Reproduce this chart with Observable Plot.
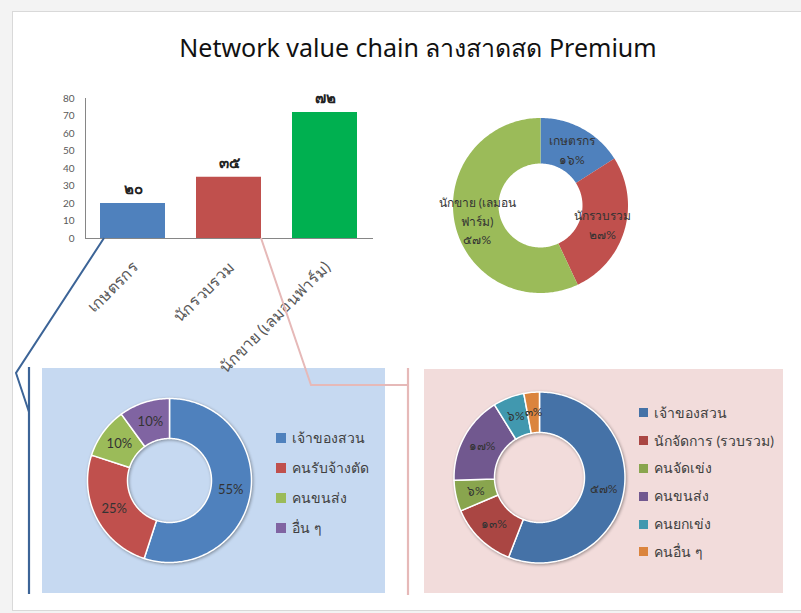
<!DOCTYPE html>
<html><head><meta charset="utf-8">
<script src="https://cdn.jsdelivr.net/npm/d3@7"></script>
<script src="https://cdn.jsdelivr.net/npm/@observablehq/plot@0.6"></script>
<style>
body{margin:0;background:#f3f3f3;}
#page{position:relative;width:801px;height:613px;overflow:hidden;font-family:Lato,"Noto Sans","DejaVu Sans",sans-serif;}
#frame{position:absolute;left:12px;top:11px;width:800px;height:598px;background:#fff;border:1px solid #d9d9d9;}
.abs{position:absolute;}
#title{left:0;width:836px;top:28px;text-align:center;font-size:25px;color:#111;font-family:"Noto Sans","Open Sans",sans-serif;}
.legend{font-size:14px;color:#404040;}
.legend .row{position:absolute;left:0;white-space:nowrap;display:flex;align-items:center;}
.legend .sw{display:inline-block;margin-right:6px;}
.shadow g[aria-label="line"]{filter:drop-shadow(1px 1.5px 1.5px rgba(0,0,0,0.35));}
svg{overflow:visible;}
</style>
</head><body>
<div id="page">
  <div id="frame"></div>
  <div id="title" class="abs">Network value chain ลางสาดสด Premium</div>
  <div class="abs" style="left:42px;top:368px;width:343px;height:225px;background:#C6D9F1"></div>
  <div class="abs" style="left:424px;top:369px;width:359px;height:224px;background:#F2DCDB"></div>
  <div id="donutTop" class="abs" style="left:440px;top:105px"></div>
  <div id="donutL" class="abs shadow" style="left:69px;top:380px"></div>
  <div id="donutR" class="abs shadow" style="left:439px;top:377px"></div>
  <div id="legendL" class="abs legend" style="left:276px;top:423px"></div>
  <div id="legendR" class="abs legend" style="left:639px;top:399px"></div>
  <div id="bar" class="abs" style="left:0;top:80px"></div>
  <svg id="conn" class="abs" width="801" height="613" style="left:0;top:0;pointer-events:none"></svg>
</div>
<script>
// ---------- data ----------
const barCategories = ["เกษตรกร", "นักรวบรวม", "นักขาย (เลมอนฟาร์ม)"];
const barValues = [20, 35, 72];
const barColors = ["#4F81BD", "#C0504D", "#00B050"];
const yTicks = [0, 10, 20, 30, 40, 50, 60, 70, 80];

const shareLabels = ["เกษตรกร", "นักรวบรวม", "นักขาย (เลมอน\nฟาร์ม)"];
const sharePercents = [16, 27, 57];
const shareColors = ["#4F81BD", "#C0504D", "#9BBB59"];

const farmCategories = ["เจ้าของสวน", "คนรับจ้างตัด", "คนขนส่ง", "อื่น ๆ"];
const farmPercents = [55, 25, 10, 10];
const farmColors = ["#4F81BD", "#C0504D", "#9BBB59", "#8064A2"];

const collectorCategories = ["เจ้าของสวน", "นักจัดการ (รวบรวม)", "คนจัดเข่ง", "คนขนส่ง", "คนยกเข่ง", "คนอื่น ๆ"];
const collectorPercents = [57, 13, 6, 17, 6, 3];
const collectorColors = ["#4572A7", "#AA4643", "#89A54E", "#71588F", "#4198AF", "#DB843D"];

const thaiDigits = "๐๑๒๓๔๕๖๗๘๙";
const thai = n => String(n).replace(/\d/g, d => thaiDigits[+d]);
const FONT = 'Lato,"Noto Sans","DejaVu Sans",sans-serif';

// ---------- bar chart ----------
const barData = barCategories.map((c, i) => ({cat: c, value: barValues[i], color: barColors[i]}));
const barPlot = Plot.plot({
  width: 390, height: 300,
  marginLeft: 85, marginRight: 17, marginTop: 18, marginBottom: 142,
  style: {background: "transparent", overflow: "visible", fontFamily: FONT},
  x: {domain: barCategories, paddingInner: 0.32, paddingOuter: 0.16, axis: null},
  y: {domain: [0, 80], axis: null},
  color: {type: "identity"},
  marks: [
    Plot.barY(barData, {x: "cat", y: "value", fill: "color"}),
    Plot.axisY({ticks: yTicks, tickSize: 0, tickPadding: 11, fontSize: 10, label: null, color: "#595959", fill: "#595959"}),
    Plot.frame({anchor: "left", stroke: "#868686"}),
    Plot.ruleY([0], {stroke: "#868686"}),
    Plot.text(barData, {x: "cat", y: "value", text: d => thai(d.value), dy: -14, fontSize: 15, fontWeight: "bold", fill: "#222"}),
    Plot.text(barData, {x: "cat", y: 0, text: "cat", rotate: -45, textAnchor: "end", dx: 3, dy: 26, fontSize: 16, fill: "#595959"})
  ]
});
document.getElementById("bar").append(barPlot);

// ---------- donut helper ----------
function donutPlot({labels, values, colors, outer, inner, size, stroke, strokeWidth, text, fontSize, lineHeight, fill}) {
  const total = d3.sum(values);
  let acc = 0;
  const slices = values.map((v, i) => {
    const a0 = acc / total * 2 * Math.PI; acc += v;
    const a1 = acc / total * 2 * Math.PI;
    return {i, label: labels[i], value: v, color: colors[i], a0, a1, mid: (a0 + a1) / 2};
  });
  const ring = slices.flatMap(s => {
    const n = Math.max(2, Math.ceil((s.a1 - s.a0) / 0.02));
    const pts = [];
    for (let k = 0; k <= n; k++) { const a = s.a0 + (s.a1 - s.a0) * k / n; pts.push({key: s.i, color: s.color, x: outer * Math.sin(a), y: outer * Math.cos(a)}); }
    for (let k = n; k >= 0; k--) { const a = s.a0 + (s.a1 - s.a0) * k / n; pts.push({key: s.i, color: s.color, x: inner * Math.sin(a), y: inner * Math.cos(a)}); }
    return pts;
  });
  const rm = (outer + inner) / 2;
  const h = size / 2;
  return Plot.plot({
    width: size, height: size, margin: 0,
    style: {background: "transparent", overflow: "visible", fontFamily: FONT},
    x: {domain: [-h, h], axis: null},
    y: {domain: [-h, h], axis: null},
    color: {type: "identity"},
    marks: [
      Plot.line(ring, {x: "x", y: "y", z: "key", fill: "color", stroke, strokeWidth, curve: "linear-closed"}),
      Plot.text(slices, {x: s => rm * Math.sin(s.mid), y: s => rm * Math.cos(s.mid), text, fontSize, lineHeight, fill})
    ]
  });
}

document.getElementById("donutTop").append(donutPlot({
  labels: shareLabels, values: sharePercents, colors: shareColors,
  outer: 87.5, inner: 42, size: 200, stroke: "none", strokeWidth: 0,
  text: s => s.label + "\n" + thai(s.value) + "%", fontSize: 12, lineHeight: 1.55, fill: "#333"
}));
document.getElementById("donutL").append(donutPlot({
  labels: farmCategories, values: farmPercents, colors: farmColors,
  outer: 82, inner: 42, size: 200, stroke: "white", strokeWidth: 1.5,
  text: s => s.value + "%", fontSize: 13, lineHeight: 1, fill: "#333"
}));
document.getElementById("donutR").append(donutPlot({
  labels: collectorCategories, values: collectorPercents, colors: collectorColors,
  outer: 85.5, inner: 45, size: 200, stroke: "white", strokeWidth: 1.5,
  text: s => thai(s.value) + "%", fontSize: 12, lineHeight: 1, fill: "#333"
}));

// ---------- legends ----------
function legend(el, names, colors, step, sq) {
  names.forEach((n, i) => {
    const row = document.createElement("div");
    row.className = "row";
    row.style.top = (i * step) + "px";
    row.style.height = step + "px";
    row.innerHTML = `<span class="sw" style="width:${sq}px;height:${sq}px;background:${colors[i]}"></span><span>${n}</span>`;
    el.append(row);
  });
}
legend(document.getElementById("legendL"), farmCategories, farmColors, 30, 10);
legend(document.getElementById("legendR"), collectorCategories, collectorColors, 27.8, 9);

// ---------- connectors ----------
const xs = barPlot.scale("x"), ys = barPlot.scale("y");
const barTop = 80;
const baseY = barTop + ys.apply(0);
const blueX = xs.apply(barCategories[0]) + 4;
const redX = xs.apply(barCategories[1]) + xs.bandwidth;
const conn = d3.select("#conn");
const line = d3.line();
conn.append("path").attr("d", line([[blueX, baseY], [16, 373], [29, 412]])).attr("fill", "none").attr("stroke", "#3C6497").attr("stroke-width", 2);
conn.append("path").attr("d", line([[29, 367], [29, 594]])).attr("stroke", "#3C6497").attr("stroke-width", 2.2);
conn.append("path").attr("d", line([[redX, baseY], [311, 385], [408, 385]])).attr("fill", "none").attr("stroke", "#E6B9B8").attr("stroke-width", 2);
conn.append("path").attr("d", line([[408, 368], [408, 595]])).attr("stroke", "#E6B9B8").attr("stroke-width", 2.2);
</script>
</body></html>
